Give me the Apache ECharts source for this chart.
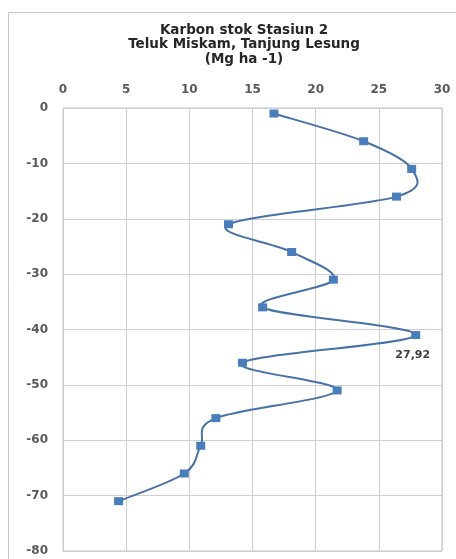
<!DOCTYPE html>
<html>
<head>
<meta charset="utf-8">
<script src="https://cdn.jsdelivr.net/npm/echarts@6/dist/echarts.min.js"></script>
<style>
  html, body { margin: 0; padding: 0; background: #fff; }
  #chart { width: 456px; height: 559px; }
</style>
</head>
<body>
<div id="chart"></div>
<script>
// Carbon stock per depth layer (Mg ha-1), station 2
const depths = [-1, -6, -11, -16, -21, -26, -31, -36, -41, -46, -51, -56, -61, -66, -71];
const carbon = [16.7, 23.8, 27.6, 26.4, 13.1, 18.1, 21.4, 15.8, 27.92, 14.2, 21.7, 12.1, 10.9, 9.6, 4.4];
const xTicks = [0, 5, 10, 15, 20, 25, 30];
const yTicks = [0, -10, -20, -30, -40, -50, -60, -70, -80];
const titleLines = ['Karbon stok Stasiun 2', 'Teluk Miskam, Tanjung Lesung', '(Mg ha -1)'];
const labelledIndex = 8;

const FONT = 'DejaVu Sans, Verdana, sans-serif';
const LINE_COLOR = '#4672a8';
const MARKER_COLOR = '#4a7ebb';

const pairs = depths.map((d, i) => [carbon[i], d]);

const points = pairs.map((p, i) => ({
  value: p,
  label: i === labelledIndex ? {
    show: true,
    position: 'bottom',
    offset: [-3, 6],
    formatter: () => carbon[i].toFixed(2).replace('.', ','),
    fontFamily: FONT,
    fontSize: 11,
    fontWeight: 'bold',
    color: '#404040'
  } : { show: false }
}));

// Cardinal spline (tension 1/6) through the projected points, drawn once.
function renderCurve(params, api) {
  if (params.dataIndex !== 0) return null;
  const px = pairs.map(p => api.coord(p));
  const n = px.length;
  let d = 'M' + px[0][0] + ' ' + px[0][1];
  for (let i = 0; i < n - 1; i++) {
    const p0 = px[Math.max(i - 1, 0)];
    const p1 = px[i];
    const p2 = px[i + 1];
    const p3 = px[Math.min(i + 2, n - 1)];
    const c1x = p1[0] + (p2[0] - p0[0]) / 6;
    const c1y = p1[1] + (p2[1] - p0[1]) / 6;
    const c2x = p2[0] - (p3[0] - p1[0]) / 6;
    const c2y = p2[1] - (p3[1] - p1[1]) / 6;
    d += ' C' + c1x + ' ' + c1y + ' ' + c2x + ' ' + c2y + ' ' + p2[0] + ' ' + p2[1];
  }
  return {
    type: 'path',
    shape: { pathData: d },
    style: { fill: 'none', stroke: LINE_COLOR, lineWidth: 2 }
  };
}

const axisText = {
  fontFamily: FONT,
  fontSize: 12,
  fontWeight: 'bold',
  color: '#595959'
};

const chart = echarts.init(document.getElementById('chart'), null, { renderer: 'canvas' });
chart.setOption({
  backgroundColor: '#fff',
  animation: false,
  graphic: [{
    type: 'rect',
    shape: { x: 8.5, y: 12.5, width: 470, height: 560 },
    style: { fill: 'none', stroke: '#c8c8c8', lineWidth: 1 }
  }],
  title: {
    text: titleLines.join('\n'),
    left: 239,
    textAlign: 'center',
    top: 18,
    textStyle: {
      fontFamily: FONT,
      fontSize: 13.5,
      fontWeight: 'bold',
      color: '#262626',
      lineHeight: 14.5
    }
  },
  grid: { left: 63, right: 14, top: 108, bottom: 8, containLabel: false, show: true, borderColor: '#c0c0c0', borderWidth: 1 },
  xAxis: {
    type: 'value',
    position: 'top',
    min: xTicks[0],
    max: xTicks[xTicks.length - 1],
    interval: 5,
    axisLine: { show: false },
    axisTick: { show: false },
    axisLabel: Object.assign({ margin: 12 }, axisText),
    splitLine: { show: true, lineStyle: { color: '#cfcfcf', width: 1 } }
  },
  yAxis: {
    type: 'value',
    min: yTicks[yTicks.length - 1],
    max: yTicks[0],
    interval: 10,
    axisLine: { show: false },
    axisTick: { show: false },
    axisLabel: Object.assign({ margin: 15 }, axisText),
    splitLine: { show: true, lineStyle: { color: '#cfcfcf', width: 1 } }
  },
  series: [{
    type: 'custom',
    name: 'curve',
    data: pairs,
    renderItem: renderCurve,
    silent: true,
    z: 2
  }, {
    type: 'line',
    name: 'Karbon stok',
    data: points,
    smooth: false,
    symbol: 'rect',
    symbolSize: [9, 8],
    itemStyle: { color: MARKER_COLOR },
    lineStyle: { width: 0, opacity: 0 },
    z: 3
  }]
});
</script>
</body>
</html>
